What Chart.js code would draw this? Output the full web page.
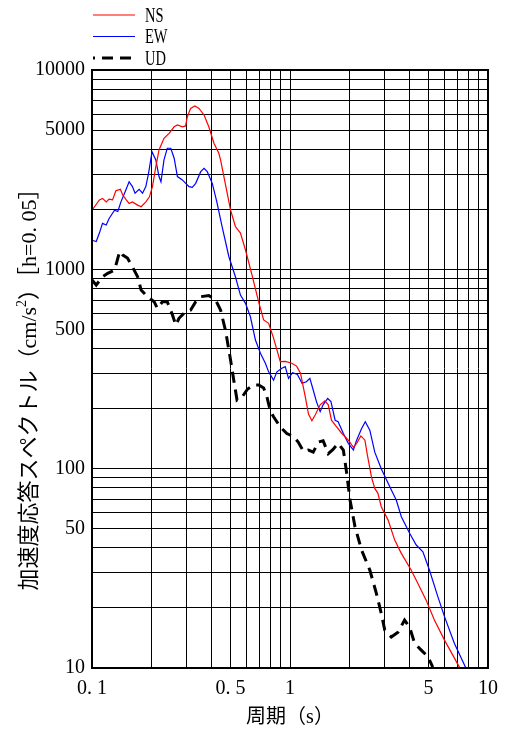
<!DOCTYPE html>
<html>
<head>
<meta charset="utf-8">
<script src="https://cdn.jsdelivr.net/npm/chart.js@4/dist/chart.umd.min.js"></script>
<style>
  html, body { margin: 0; padding: 0; background: #fff; }
  #wrap { width: 507px; height: 733px; }
</style>
</head>
<body>
<div id="wrap"><canvas id="myChart" width="507" height="733"></canvas></div>
<script>
var seriesNames = ['NS', 'EW', 'UD']

// period (s) and acceleration response (cm/s2)
var nsPeriod = [0.100, 0.109, 0.113, 0.118, 0.122, 0.127, 0.132, 0.139, 0.143, 0.149, 0.154, 0.160, 0.170, 0.177, 0.187, 0.195, 0.202, 0.210, 0.218, 0.231, 0.245, 0.260, 0.270, 0.286, 0.297, 0.303, 0.315, 0.331, 0.347, 0.368, 0.389, 0.413, 0.437, 0.446, 0.501, 0.530, 0.562, 0.596, 0.643, 0.695, 0.736, 0.780, 0.826, 0.893, 0.949, 1.02, 1.08, 1.13, 1.19, 1.24, 1.29, 1.34, 1.42, 1.50, 1.56, 1.62, 1.72, 1.82, 1.97, 2.09, 2.17, 2.28, 2.39, 2.46, 2.58, 2.68, 2.78, 2.89, 3.13, 3.38, 3.65, 4.09, 4.42, 4.87, 5.36, 6.03, 7.17]
var nsValue = [1980, 2230, 2270, 2180, 2250, 2230, 2480, 2520, 2360, 2230, 2140, 2180, 2100, 2060, 2180, 2310, 2600, 3270, 3970, 4540, 4810, 5190, 5300, 5190, 5240, 5830, 6420, 6600, 6420, 5950, 5190, 4290, 3820, 3540, 1980, 1640, 1520, 1250, 936, 685, 557, 536, 452, 344, 345, 338, 327, 301, 234, 188, 174, 186, 209, 219, 209, 175, 162, 151, 139, 128, 134, 146, 139, 117, 90.7, 79.6, 75.2, 64.4, 55.2, 43.8, 37.6, 31.0, 26.6, 21.9, 17.4, 13.8, 10.1]

var ewPeriod = [0.100, 0.105, 0.109, 0.113, 0.118, 0.122, 0.130, 0.135, 0.140, 0.146, 0.154, 0.160, 0.165, 0.173, 0.180, 0.187, 0.193, 0.201, 0.210, 0.218, 0.223, 0.231, 0.240, 0.250, 0.260, 0.270, 0.286, 0.309, 0.321, 0.334, 0.354, 0.368, 0.382, 0.405, 0.427, 0.454, 0.491, 0.530, 0.562, 0.596, 0.631, 0.669, 0.709, 0.751, 0.780, 0.826, 0.859, 0.910, 0.946, 0.983, 1.03, 1.09, 1.15, 1.21, 1.26, 1.31, 1.36, 1.42, 1.47, 1.55, 1.61, 1.69, 1.75, 1.86, 1.97, 2.09, 2.17, 2.30, 2.40, 2.53, 2.68, 2.89, 3.25, 3.44, 3.65, 4.02, 4.34, 4.69, 5.06, 5.58, 6.03, 6.76, 7.73]
var ewValue = [1400, 1380, 1520, 1700, 1670, 1800, 1980, 1950, 2180, 2410, 2750, 2600, 2410, 2520, 2410, 2600, 3030, 3890, 3540, 2920, 2750, 3540, 4050, 4050, 3610, 2920, 2810, 2600, 2580, 2700, 3090, 3210, 3090, 2700, 2180, 1640, 1160, 918, 743, 675, 578, 442, 379, 338, 306, 278, 306, 319, 325, 284, 303, 297, 268, 273, 284, 248, 217, 193, 209, 225, 217, 175, 172, 150, 134, 124, 139, 159, 172, 156, 121, 100, 78.1, 69.6, 57.4, 47.4, 41.4, 38.3, 31.0, 22.8, 18.1, 13.3, 10.0]

var udPeriod = [0.100, 0.105, 0.113, 0.120, 0.130, 0.138, 0.143, 0.151, 0.160, 0.170, 0.177, 0.191, 0.206, 0.214, 0.227, 0.240, 0.255, 0.265, 0.275, 0.297, 0.315, 0.334, 0.354, 0.389, 0.421, 0.446, 0.473, 0.501, 0.520, 0.540, 0.573, 0.611, 0.655, 0.695, 0.736, 0.765, 0.795, 0.826, 0.893, 0.964, 1.04, 1.10, 1.17, 1.24, 1.31, 1.39, 1.47, 1.56, 1.65, 1.75, 1.86, 1.93, 2.01, 2.13, 2.30, 2.53, 2.73, 2.89, 3.01, 3.25, 3.51, 3.79, 4.02, 4.26, 4.60, 4.97, 5.26]
var udValue = [884, 834, 918, 955, 992, 1230, 1180, 1140, 1030, 918, 787, 729, 688, 637, 688, 688, 590, 525, 568, 613, 625, 688, 729, 739, 701, 625, 490, 351, 278, 221, 229, 251, 263, 263, 254, 229, 195, 182, 162, 150, 145, 136, 122, 124, 121, 136, 138, 119, 125, 134, 124, 96.1, 69.6, 51.1, 39.0, 31.0, 23.7, 18.8, 15.5, 14.3, 15.1, 17.4, 16.0, 13.3, 12.3, 11.4, 10.1]

var xLabelValues = [0.1, 0.5, 1, 5, 10]
var xLabelText = ['0. 1', '0. 5', '1', '5', '10']
var yLabelValues = [10, 50, 100, 500, 1000, 5000, 10000]
var yLabelText = ['10', '50', '100', '500', '1000', '5000', '10000']

const LATIN = "'Liberation Serif', 'Noto Sans CJK JP', serif"
const colors = ['#ff0000', '#0000ff', '#000000']

function decadeGrid(lo, hi) {
  const out = []
  for (let e = Math.round(Math.log10(lo)); e < Math.round(Math.log10(hi)); e++) {
    for (let m = 1; m <= 9; m++) out.push(Number((m * Math.pow(10, e)).toPrecision(3)))
  }
  out.push(hi)
  return out
}

function labelFor(values, texts) {
  return v => {
    const i = values.findIndex(t => Math.abs(t - v) / t < 1e-6)
    return i >= 0 ? texts[i] : ''
  }
}

function toPoints(xs, ys) {
  return xs.map((x, i) => ({ x, y: ys[i] }))
}

const decorations = {
  id: 'decorations',
  beforeDraw(chart) {
    const ctx = chart.ctx
    ctx.save()
    ctx.fillStyle = '#fff'
    ctx.fillRect(0, 0, chart.width, chart.height)
    ctx.restore()
  },
  afterDraw(chart) {
    const ctx = chart.ctx
    const a = chart.chartArea
    ctx.save()
    // frame
    ctx.strokeStyle = '#000'
    ctx.lineWidth = 2
    ctx.strokeRect(a.left, a.top, a.right - a.left, a.bottom - a.top)

    // legend
    chart.data.datasets.forEach((ds, i) => {
      const y = 15 + i * 21.5
      ctx.beginPath()
      ctx.strokeStyle = ds.borderColor
      ctx.lineWidth = ds.borderWidth
      ctx.setLineDash(ds.borderDash || [])
      ctx.lineDashOffset = ds.borderDash ? 9 : 0
      ctx.moveTo(93, y)
      ctx.lineTo(135, y)
      ctx.stroke()
      ctx.setLineDash([])
      ctx.save()
      ctx.translate(145, y + 1)
      ctx.scale(0.66, 1)
      ctx.fillStyle = '#000'
      ctx.font = '22px ' + LATIN
      ctx.textBaseline = 'middle'
      ctx.textAlign = 'left'
      ctx.fillText(ds.label, 0, 0)
      ctx.restore()
    })

    // x title
    ctx.fillStyle = '#000'
    ctx.font = '20px ' + LATIN
    ctx.textAlign = 'center'
    ctx.textBaseline = 'middle'
    ctx.fillText('周期（s）', (a.left + a.right) / 2, 718)

    // y title with superscript
    const big = '22px ' + LATIN
    const small = '14px ' + LATIN
    const parts = [
      { t: '加速度応答スペクトル（cm/s', f: big, dy: 0 },
      { t: '2', f: small, dy: -8 },
      { t: '）［h=0. 05］', f: big, dy: 0 },
    ]
    let total = 0
    parts.forEach(p => { ctx.font = p.f; p.w = ctx.measureText(p.t).width; total += p.w })
    ctx.translate(30, 384)
    ctx.rotate(-Math.PI / 2)
    ctx.textAlign = 'left'
    let x = -total / 2
    parts.forEach(p => {
      ctx.font = p.f
      ctx.fillText(p.t, x, p.dy)
      x += p.w
    })
    ctx.restore()
  },
}

function generateGraph() {
  const series = [
    { period: nsPeriod, value: nsValue, width: 1.2 },
    { period: ewPeriod, value: ewValue, width: 1.2 },
    { period: udPeriod, value: udValue, width: 3, dash: [11, 7] },
  ]
  const datasets = series.map((s, i) => ({
    label: seriesNames[i],
    data: toPoints(s.period, s.value),
    borderColor: colors[i],
    backgroundColor: colors[i],
    borderWidth: s.width,
    borderDash: s.dash,
    pointRadius: 0,
    tension: 0,
    fill: false,
  }))

  const tickFont = { family: LATIN, size: 20 }

  const ctx = document.getElementById('myChart').getContext('2d')
  new Chart(ctx, {
    type: 'line',
    data: { datasets },
    plugins: [decorations],
    options: {
      responsive: false,
      animation: false,
      layout: { padding: { top: 70, right: 16, left: 0, bottom: 0 } },
      plugins: { legend: { display: false }, tooltip: { enabled: false } },
      scales: {
        x: {
          type: 'logarithmic',
          min: 0.1,
          max: 10,
          afterBuildTicks: scale => { scale.ticks = decadeGrid(0.1, 10).map(value => ({ value })) },
          afterFit: scale => { scale.height = 65 },
          grid: { color: '#000', lineWidth: 1, drawTicks: false },
          border: { color: '#000', width: 2 },
          ticks: {
            autoSkip: false,
            maxRotation: 0,
            padding: 9,
            color: '#000',
            font: tickFont,
            callback: labelFor(xLabelValues, xLabelText),
          },
        },
        y: {
          type: 'logarithmic',
          min: 10,
          max: 10000,
          afterBuildTicks: scale => { scale.ticks = decadeGrid(10, 10000).map(value => ({ value })) },
          afterFit: scale => { scale.width = 92 },
          grid: { color: '#000', lineWidth: 1, drawTicks: false },
          border: { color: '#000', width: 2 },
          ticks: {
            autoSkip: false,
            padding: 7,
            color: '#000',
            font: tickFont,
            callback: labelFor(yLabelValues, yLabelText),
          },
        },
      },
    },
  })
}

generateGraph()
</script>
</body>
</html>
